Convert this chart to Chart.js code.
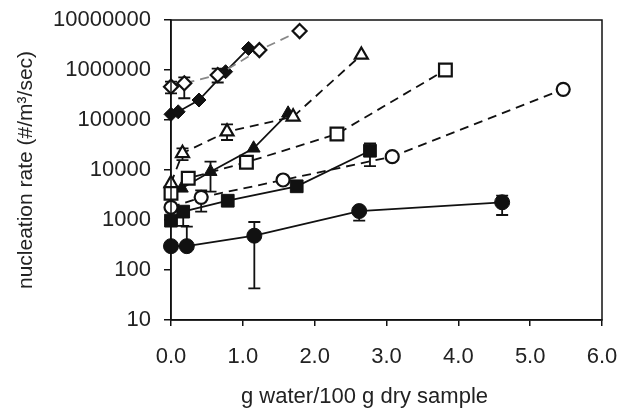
<!DOCTYPE html>
<html>
<head>
<meta charset="utf-8">
<script src="https://cdn.jsdelivr.net/npm/chart.js@4/dist/chart.umd.min.js"></script>
<style>
  body { margin: 0; background: #fff; }
  #wrap { width: 621px; height: 409px; }
</style>
</head>
<body>
<div id="wrap"><canvas id="myChart" width="621" height="409"></canvas></div>
<script>
// x = g water / 100 g dry sample, y = nucleation rate
const xTicks = [0, 1, 2, 3, 4, 5, 6];
const yTicks = [10, 100, 1000, 10000, 100000, 1000000, 10000000];

const circleX = [0, 0.22, 1.16, 2.62, 4.61];
const circleY = [300, 300, 485, 1510, 2260];
const circleErr = [null, [300, 735], [43, 912], [970, 1510], [1260, 3060]];

const squareX = [0, 0.17, 0.79, 1.75, 2.77];
const squareY = [970, 1470, 2430, 4720, 24300];
const squareErr = [null, [760, 1470], null, null, [12000, 34200]];

const triX = [0.15, 0.55, 1.15, 1.63];
const triY = [4300, 9250, 27200, 136000];
const triErr = [null, [3680, 14700], null, null];

const diamondX = [0, 0.10, 0.39, 0.76, 1.08];
const diamondY = [130000, 146000, 251000, 925000, 2700000];

const openDiamondX = [0, 0.185, 0.65, 1.23, 1.79];
const openDiamondY = [464000, 542000, 794000, 2500000, 6000000];
const openDiamondErr = [[342000, 583000], [272000, 714000], [562000, 1070000], null, null];

const openTriX = [0, 0.16, 0.78, 1.70, 2.65];
const openTriY = [5420, 21600, 58300, 116000, 2000000];
const openTriErr = [null, [15800, 27100], [39800, 81700], null, null];

const openSquareX = [0, 0.24, 1.05, 2.31, 3.82];
const openSquareY = [3420, 6820, 14300, 52500, 1000000];

const openCircleX = [0, 0.42, 1.56, 3.08, 5.46];
const openCircleY = [1795, 2840, 6310, 18500, 411000];
const openCircleErr = [null, [1470, 3900], null, null, null];

const pts = (xs, ys) => xs.map((x, i) => ({x: x, y: ys[i]}));

function series(xs, ys, err, style, radius, filled, dashed, lineColor) {
   return {
      data: pts(xs, ys),
      err: err,
      showLine: true,
      borderColor: lineColor || '#111',
      borderWidth: 1.8,
      borderDash: dashed ? [9, 6] : [],
      pointStyle: style,
      pointRadius: radius,
      pointHoverRadius: radius,
      pointBackgroundColor: filled ? '#111' : '#fff',
      pointBorderColor: '#111',
      pointBorderWidth: filled ? 1 : 2.2,
      clip: false
   };
}

const errorBars = {
   id: 'errorBars',
   beforeDatasetsDraw(chart) {
      const ctx = chart.ctx;
      const xs = chart.scales.x, ys = chart.scales.y;
      ctx.save();
      ctx.strokeStyle = '#111';
      ctx.lineWidth = 1.8;
      chart.data.datasets.forEach(ds => {
         if (!ds.err) return;
         ds.err.forEach((e, i) => {
            if (!e) return;
            const px = xs.getPixelForValue(ds.data[i].x);
            const lo = ys.getPixelForValue(e[0]);
            const hi = ys.getPixelForValue(e[1]);
            ctx.beginPath();
            ctx.moveTo(px, lo); ctx.lineTo(px, hi);
            ctx.moveTo(px - 6, lo); ctx.lineTo(px + 6, lo);
            ctx.moveTo(px - 6, hi); ctx.lineTo(px + 6, hi);
            ctx.stroke();
         });
      });
      ctx.restore();
   },
   afterDraw(chart) {
      const ctx = chart.ctx;
      const a = chart.chartArea;
      ctx.save();
      ctx.strokeStyle = '#111';
      ctx.lineWidth = 1.5;
      ctx.strokeRect(a.left, a.top, a.right - a.left, a.bottom - a.top);
      // x axis title
      ctx.fillStyle = '#222';
      ctx.font = '22px "Liberation Sans", Arial, sans-serif';
      ctx.textAlign = 'center';
      ctx.textBaseline = 'middle';
      ctx.fillText('g water/100 g dry sample', (a.left + a.right) / 2 - 22, 397);
      ctx.restore();
   }
};

const tickFont = {family: '"Liberation Sans", Arial, sans-serif', size: 22};

const ctx = document.getElementById('myChart').getContext('2d');
const myChart = new Chart(ctx, {
   type: 'scatter',
   data: {
      datasets: [
         series(openDiamondX, openDiamondY, openDiamondErr, 'rectRot', 7, false, true, '#888'),
         series(diamondX, diamondY, null, 'rectRot', 7, true, false),
         series(openTriX, openTriY, openTriErr, 'triangle', 7.5, false, true),
         series(openSquareX, openSquareY, null, 'rect', 9, false, true),
         series(openCircleX, openCircleY, openCircleErr, 'circle', 6.5, false, true),
         series(triX, triY, triErr, 'triangle', 7.5, true, false),
         series(squareX, squareY, squareErr, 'rect', 9, true, false),
         series(circleX, circleY, circleErr, 'circle', 7.5, true, false)
      ]
   },
   options: {
      responsive: false,
      animation: false,
      layout: {padding: {top: 20, right: 19, left: 0, bottom: 0}},
      plugins: {legend: {display: false}, tooltip: {enabled: false}},
      scales: {
         x: {
            type: 'linear',
            min: 0, max: 6,
            afterBuildTicks: s => { s.ticks = xTicks.map(v => ({value: v})); },
            afterFit: s => { s.height = 89; s.paddingLeft = 0; s.paddingRight = 0; },
            ticks: {
               color: '#222', font: tickFont, padding: 18,
               callback: v => v.toFixed(1)
            },
            grid: {drawOnChartArea: false, tickLength: 6, color: '#111', lineWidth: 1.5},
            border: {color: '#111', width: 1.5}
         },
         y: {
            type: 'logarithmic',
            min: 10, max: 10000000,
            afterBuildTicks: s => { s.ticks = yTicks.map(v => ({value: v})); },
            afterFit: s => { s.width = 171; s.paddingTop = 0; s.paddingBottom = 0; },
            ticks: {
               color: '#222', font: tickFont, padding: 13,
               callback: v => String(v)
            },
            grid: {drawOnChartArea: false, tickLength: 7, color: '#111', lineWidth: 1.5},
            border: {color: '#111', width: 1.5},
            title: {
               display: true,
               text: 'nucleation rate (#/m³/sec)',
               color: '#222',
               font: {family: '"Liberation Sans", Arial, sans-serif', size: 21},
               padding: {top: 14, bottom: 0}
            }
         }
      }
   },
   plugins: [errorBars]
});
</script>
</body>
</html>
